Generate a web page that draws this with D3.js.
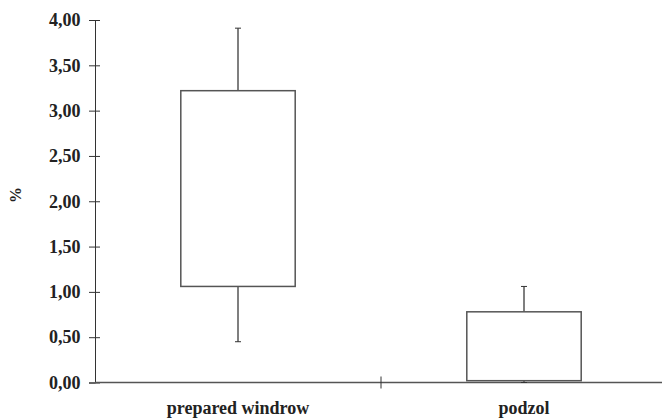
<!DOCTYPE html>
<html>
<head>
<meta charset="utf-8">
<script src="https://cdn.jsdelivr.net/npm/d3@7"></script>
<style>
  body { margin: 0; background: #fff; }
  svg text { font-family: 'Liberation Serif', 'DejaVu Serif', serif; font-weight: bold; fill: #222; }
</style>
</head>
<body>
<svg id="chart" width="662" height="419"></svg>
<script>
// data
const categories = ['prepared windrow', 'podzol'];
const whiskerLow = [0.45, 0.0];
const boxLow = [1.06, 0.02];
const boxHigh = [3.22, 0.78];
const whiskerHigh = [3.91, 1.06];
const yTicks = [0, 0.5, 1, 1.5, 2, 2.5, 3, 3.5, 4];

const svg = d3.select('#chart');
const margin = { top: 20, right: -5, bottom: 36.5, left: 95 };
const width = 662 - margin.left - margin.right;
const height = 419 - margin.top - margin.bottom;

const g = svg.append('g').attr('transform', `translate(${margin.left}, ${margin.top})`);

const x = d3.scaleBand().domain(categories).range([0, width]);
const y = d3.scaleLinear().domain([0, 4]).range([height, 0]);

const fmt = d => d3.format('.2f')(d).replace('.', ',');

// y axis
const yAxis = g.append('g')
    .call(d3.axisLeft(y).tickValues(yTicks).tickFormat(fmt).tickSizeOuter(0).tickSize(6).tickPadding(8));
yAxis.attr('font-family', null);
yAxis.select('.domain').attr('stroke', '#333');
yAxis.selectAll('.tick line').attr('x2', 5).attr('x1', -6).attr('stroke', '#333');
yAxis.selectAll('.tick text').attr('font-size', 18).attr('fill', '#222').attr('dx', -0.5);

const data = categories.map((c, i) => ({
    cat: c, wl: whiskerLow[i], lo: boxLow[i], hi: boxHigh[i], wh: whiskerHigh[i]
}));

// x axis line + middle tick
g.append('line')
    .attr('x1', 0).attr('x2', width)
    .attr('y1', y(0)).attr('y2', y(0))
    .attr('stroke', '#555').attr('stroke-width', 1.5);

g.selectAll('.sep').data(categories.slice(1)).join('line')
    .attr('class', 'sep')
    .attr('x1', d => x(d)).attr('x2', d => x(d))
    .attr('y1', y(0) - 6).attr('y2', y(0) + 6)
    .attr('stroke', '#333');

g.selectAll('.xlab').data(categories).join('text')
    .attr('class', 'xlab')
    .attr('x', d => x(d) + x.bandwidth() / 2)
    .attr('y', height + 31.5)
    .attr('text-anchor', 'middle')
    .attr('font-size', 18)
    .text(d => d);

// boxes
const boxW = x.bandwidth() * 0.4;
const box = g.selectAll('.box').data(data).join('g').attr('class', 'box')
    .attr('transform', d => `translate(${x(d.cat) + x.bandwidth() / 2}, 0)`);

box.append('line')
    .attr('x1', 0).attr('x2', 0)
    .attr('y1', d => y(d.hi)).attr('y2', d => y(d.wh))
    .attr('stroke', '#555').attr('stroke-width', 1.5);
box.append('line')
    .attr('x1', 0).attr('x2', 0)
    .attr('y1', d => y(d.lo)).attr('y2', d => y(d.wl))
    .attr('stroke', '#555').attr('stroke-width', 1.5);
box.append('line')
    .attr('x1', -3).attr('x2', 3)
    .attr('y1', d => y(d.wh)).attr('y2', d => y(d.wh))
    .attr('stroke', '#333');
box.append('line')
    .attr('x1', -3).attr('x2', 3)
    .attr('y1', d => y(d.wl)).attr('y2', d => y(d.wl))
    .attr('stroke', '#333');
box.append('rect')
    .attr('x', -boxW / 2).attr('width', boxW)
    .attr('y', d => y(d.hi)).attr('height', d => y(d.lo) - y(d.hi))
    .attr('fill', '#fff').attr('stroke', '#555').attr('stroke-width', 1.5);

// y title
svg.append('text')
    .attr('transform', 'translate(21, 195) rotate(-90)')
    .attr('text-anchor', 'middle')
    .attr('font-size', 16)
    .text('%');
</script>
</body>
</html>
